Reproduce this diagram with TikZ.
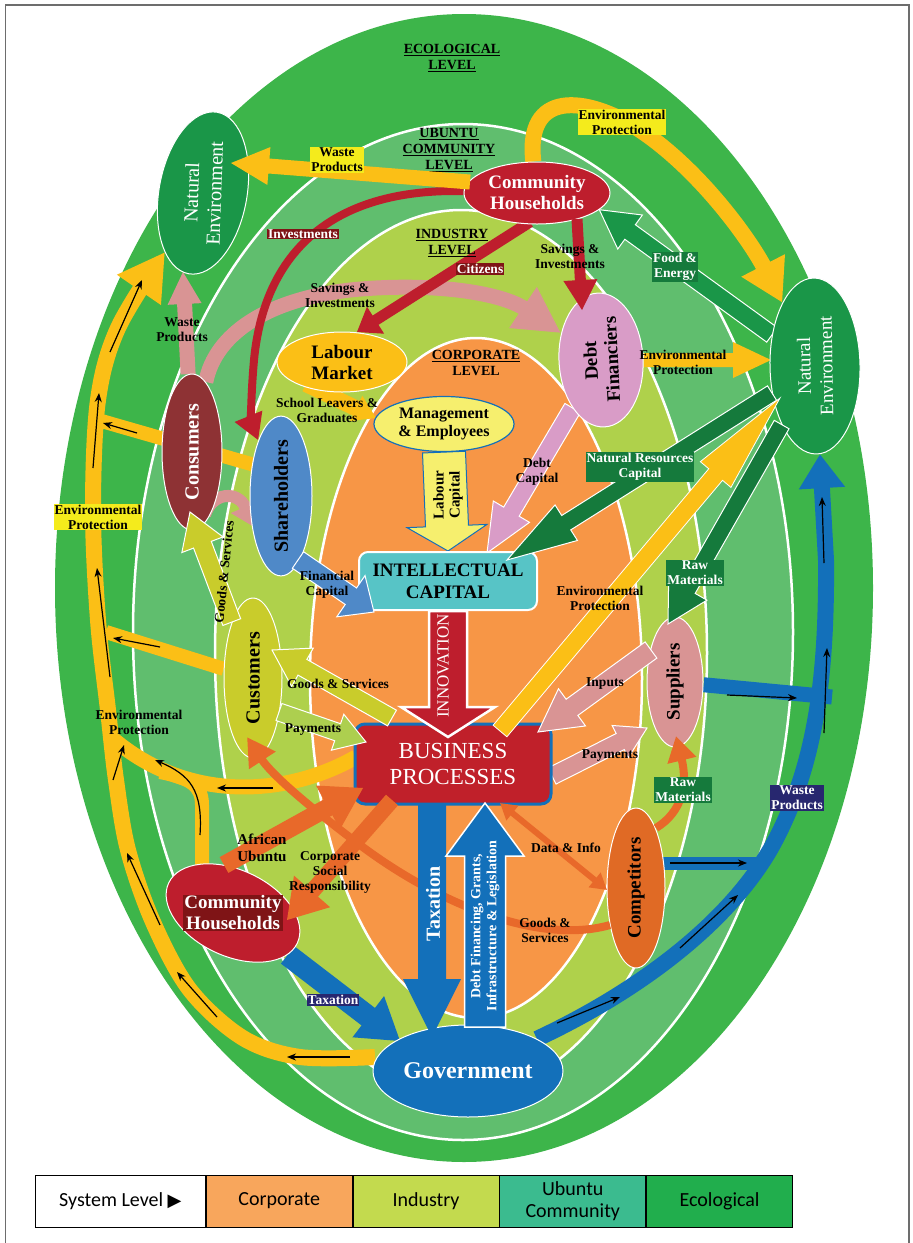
\documentclass[tikz,border=0pt]{standalone}
\usepackage{fontspec}
\setmainfont{Liberation Serif}
\newfontfamily\legendfont{Carlito}
\newfontfamily\trifont{DejaVu Sans}
\usetikzlibrary{shapes.geometric,arrows.meta,calc}

\definecolor{ecoGreen}{HTML}{3DB54A}
\definecolor{ubuGreen}{HTML}{60BE6E}
\definecolor{indGreen}{HTML}{AFD14B}
\definecolor{corpOrange}{HTML}{F79646}
\definecolor{natGreen}{HTML}{1A9648}
\definecolor{darkGreen}{HTML}{157A3C}
\definecolor{chRed}{HTML}{BE1E2D}
\definecolor{darkRed}{HTML}{7F1416}
\definecolor{yelArrow}{HTML}{FBBF16}
\definecolor{yelLabel}{HTML}{F4EB1C}
\definecolor{paleYel}{HTML}{F6EF6E}
\definecolor{pinkDebt}{HTML}{D99CC7}
\definecolor{pinkArr}{HTML}{D99494}
\definecolor{consRed}{HTML}{8E3234}
\definecolor{shareBlue}{HTML}{4F89C8}
\definecolor{custOlive}{HTML}{C9CC2B}
\definecolor{payGreen}{HTML}{ADCF4F}
\definecolor{compOrange}{HTML}{E06A25}
\definecolor{arrOrange}{HTML}{E8692A}
\definecolor{govBlue}{HTML}{1370BA}
\definecolor{navy}{HTML}{27276F}
\definecolor{icTeal}{HTML}{57C4C6}
\definecolor{bpRed}{HTML}{C0202A}
\definecolor{frameGrey}{HTML}{6D6D6D}
\definecolor{legCorp}{HTML}{F8A65C}
\definecolor{legInd}{HTML}{C3DA4E}
\definecolor{legUbu}{HTML}{3BBB8F}
\definecolor{legEco}{HTML}{21AE4D}

\newcommand{\fsz}[2]{\fontsize{#1}{#2}\selectfont}
% block arrow: [style]{from}{to}{half shaft}{half head}{head length}
\newcommand{\blockarr}[6][]{%
  \path (#2) -- (#3) coordinate[pos=0] (ba-s) coordinate[pos=1] (ba-t);
  \coordinate (ba-c) at ($(ba-t)!#6pt!(ba-s)$);
  \path[#1] ($(ba-s)!#4pt!90:(ba-t)$) -- ($(ba-c)!#4pt!90:(ba-t)$)
    -- ($(ba-c)!#5pt!90:(ba-t)$) -- (ba-t)
    -- ($(ba-c)!#5pt!-90:(ba-t)$) -- ($(ba-c)!#4pt!-90:(ba-t)$)
    -- ($(ba-s)!#4pt!-90:(ba-t)$) -- cycle;}

\pgfdeclarelayer{bg}
\pgfdeclarelayer{arr}
\pgfsetlayers{bg,arr,main}

\tikzset{
  ring/.style={draw=white, line width=2.5pt},
  ell/.style={ellipse, draw=white, line width=1pt, inner sep=0pt, align=center},
  lbl/.style={font=\bfseries\fsz{13.5}{15}, align=center, inner sep=1pt},
  lvl/.style={font=\bfseries\fsz{14}{16}, align=center},
  sarr/.style={black, line width=1.2pt, -{Stealth[length=9pt,width=7pt]}},
  legcell/.style={draw=black, line width=0.8pt, minimum width=146pt, minimum height=52pt,
    inner sep=0pt, align=center, anchor=west, font=\legendfont\fsz{20}{22}}
}

\begin{document}
\begin{tikzpicture}[x=1pt, y=-1pt]
\useasboundingbox (0,0) rectangle (913,1243);

\begin{pgfonlayer}{bg}
  \fill[ecoGreen] (464,588) ellipse [x radius=409, y radius=574];
  \draw[ring, fill=ubuGreen] (463,632) ellipse [x radius=330, y radius=508];
  \draw[ring, fill=indGreen] (461,653) ellipse [x radius=246, y radius=443];
  \draw[ring, fill=corpOrange] (476,678) ellipse [x radius=166, y radius=340];
\end{pgfonlayer}

% level titles
\node[lvl] (ecoLvl) at (452,58) {\underline{ECOLOGICAL}\\\underline{LEVEL}};
\node[lvl] (ubuLvl) at (449,150) {\underline{UBUNTU}\\\underline{COMMUNITY}\\\underline{LEVEL}};
\node[lvl] (indLvl) at (452,243) {\underline{INDUSTRY}\\\underline{LEVEL}};
\node[lvl] (corpLvl) at (476,363) {\underline{CORPORATE}\\LEVEL};

% stakeholders
\node[ell, fill=natGreen, minimum width=164pt, minimum height=88pt, rotate=80] (neL) at (203,193) {};
\node[rotate=88, text=white, align=center, font=\fsz{20}{23}] (neLtxt) at (neL) {Natural\\Environment};
\node[ell, fill=natGreen, minimum width=176pt, minimum height=90pt, rotate=91, text=white, font=\fsz{19}{22}] (neR) at (815,366) {Natural\\Environment};
\node[ell, fill=chRed, minimum width=146pt, minimum height=62pt, text=white, font=\bfseries\fsz{19}{21}] (chT) at (537,193) {Community\\Households};
\node[ell, fill=yelArrow, minimum width=130pt, minimum height=60pt, font=\bfseries\fsz{19}{21}] (lab) at (342,362) {Labour\\Market};
\node[ell, fill=paleYel, draw=govBlue, line width=1.2pt, minimum width=140pt, minimum height=55pt, font=\bfseries\fsz{16}{18}] (mgmt) at (444,424) {Management\\\& Employees};
\node[ell, fill=pinkDebt, minimum width=134pt, minimum height=84pt, rotate=93, font=\bfseries\fsz{19}{21}] (debt) at (601,360) {Debt\\Financiers};
\node[ell, fill=consRed, minimum width=156pt, minimum height=60pt, rotate=90, text=white, font=\bfseries\fsz{20}{21}] (cons) at (192,452) {Consumers};
\node[ell, fill=shareBlue, minimum width=154pt, minimum height=62pt, rotate=90, font=\bfseries\fsz{20}{21}] (share) at (281,496) {Shareholders};
\node[ell, fill=custOlive, minimum width=160pt, minimum height=58pt, rotate=90, font=\bfseries\fsz{20}{21}] (cust) at (253,678) {Customers};
\node[ell, fill=pinkArr, minimum width=130pt, minimum height=56pt, rotate=90, font=\bfseries\fsz{19}{21}] (supp) at (675,682) {Suppliers};
\node[ell, fill=compOrange, minimum width=160pt, minimum height=58pt, rotate=90, font=\bfseries\fsz{19}{21}] (comp) at (636,888) {Competitors};
\node[ell, fill=chRed, minimum width=142pt, minimum height=86pt, rotate=-25] (chB) at (233,913) {};
\node[ell, fill=govBlue, minimum width=190pt, minimum height=92pt, text=white, font=\bfseries\fsz{24}{26}] (gov) at (468,1071) {Government};
\node[rectangle, rounded corners=9pt, fill=icTeal, draw=white, line width=2pt, minimum width=178pt, minimum height=58pt, align=center, inner sep=0pt, font=\bfseries\fsz{19}{22}] (ic) at (448,581) {INTELLECTUAL\\CAPITAL};
\node[rectangle, rounded corners=10pt, fill=bpRed, draw=govBlue, line width=3pt, minimum width=196pt, minimum height=80pt, align=center, inner sep=0pt, text=white, font=\fsz{23}{26}] (bp) at (453,764) {BUSINESS\\PROCESSES};

% arrow ends
\coordinate (trkStart) at (375,1057);
\coordinate (trkTip) at (165,252);
\coordinate (bpBr) at (356,757);
\coordinate (bpBrEnd) at (112,738);
\coordinate (chBr) at (202,890);
\coordinate (chBrEnd) at (160,772);
\coordinate (cuBr) at (106,632);
\coordinate (shBr) at (258,466);
\coordinate (coBr) at (98,420);
\coordinate (wlTip) at (183,272);
\coordinate (pcsTail) at (205,515);
\coordinate (pcsTip) at (254,527);
\coordinate (citTail) at (530,222);
\coordinate (citTip) at (357,332);
\coordinate (envDtip) at (771,360);
\coordinate (dcTip) at (487,553);
\coordinate (slTail) at (306,384);
\coordinate (slTip) at (376,418);
\coordinate (psTail) at (552,776);
\coordinate (psTip) at (647,728);
\coordinate (tsTip) at (400,1041);
\coordinate (spBr) at (832,697);
\coordinate (cpBr0) at (640,863);
\coordinate (cpBr) at (764,863);
\coordinate (wasteTtail) at (470,182);
\coordinate (wasteTtip) at (231,163);
\coordinate (savRtail) at (577,219);
\coordinate (savRtip) at (582,310);
\coordinate (nrTip) at (507,560);
\coordinate (rtTip) at (668,624);
\coordinate (ebTail) at (500,731);
\coordinate (ebTip) at (780,398);
\coordinate (fcTail) at (298,560);
\coordinate (fcTip) at (374,612);
\coordinate (innTip) at (448,737);
\coordinate (gcTail) at (392,718);
\coordinate (gcTip) at (272,650);
\coordinate (pcTail) at (279,712);
\coordinate (pcTip) at (366,742);
\coordinate (gsTip) at (190,512);
\coordinate (inTail) at (651,650);
\coordinate (inTip) at (538,732);
\coordinate (gcpTail) at (610,925);
\coordinate (gcpTip) at (247,737);
\coordinate (auTail) at (224,865);
\coordinate (auTip) at (363,788);
\coordinate (csTail) at (392,800);
\coordinate (csTip) at (287,920);
\coordinate (diA) at (500,803);
\coordinate (diB) at (607,890);
\coordinate (rbTail) at (656,828);
\coordinate (rbTip) at (676,736);
\coordinate (tbTail) at (432,804);
\coordinate (tbTip) at (432,1037);
\coordinate (dfTail) at (485,1027);
\coordinate (dfTip) at (485,803);

\begin{pgfonlayer}{arr}
  % environmental protection flows on the left
  \draw[yelArrow, line width=16pt, -{Triangle[width=50pt,length=46pt]}] plot[smooth, tension=0.55] coordinates {(trkStart) (300,1057) (243,1038) (190,990) (153,922) (128,850) (116,780) (108,710) (98,620) (93,510) (98,400) (118,328) (trkTip)};
  \draw[yelArrow, line width=15pt] (bpBr) .. controls (290,795) and (190,805) .. (bpBrEnd);
  \draw[yelArrow, line width=14pt] (chBr) -- (202,805) .. controls (202,785) and (190,778) .. (chBrEnd);
  \draw[yelArrow, line width=14pt] (cust) -- (cuBr);
  \draw[yelArrow, line width=14pt] (shBr) -- (coBr);
  \draw[yelArrow, line width=16pt, -{Triangle[width=46pt,length=42pt]}] (chT) .. controls (525,90) and (585,95) .. (640,130) .. controls (700,170) and (750,240) .. (neR);
  \blockarr[fill=pinkArr]{cons}{wlTip}{7.5}{17}{32}
  \blockarr[fill=natGreen, draw=white, line width=1pt]{neR}{chT.-15}{9}{21}{38}
  \draw[pinkArr, line width=15pt, -{Triangle[width=46pt,length=46pt]}] (cons) .. controls (215,335) and (265,300) .. (350,290) .. controls (430,282) and (500,292) .. (debt);
  \draw[pinkArr, line width=12pt, -{Triangle[width=30pt,length=22pt]}] (pcsTail) .. controls (212,492) and (238,490) .. (pcsTip);
  \blockarr[fill=chRed]{citTail}{citTip}{5.5}{16}{22}
  \draw[chRed, line width=8pt, -{Triangle[width=28pt,length=26pt]}] (chT) .. controls (340,188) and (265,245) .. (254,360) .. controls (250,405) and (252,425) .. (share);
  \blockarr[fill=yelArrow]{debt}{envDtip}{7}{18}{38}
  \blockarr[fill=pinkDebt, draw=white, line width=1pt]{debt}{dcTip}{9}{21}{48}
  \blockarr[fill=paleYel, draw=govBlue, line width=1pt]{mgmt.south}{ic.north}{21.5}{40}{25}
  \blockarr[fill=yelArrow]{slTail}{slTip}{8}{14}{22}
  \blockarr[fill=pinkArr, draw=white, line width=1pt]{psTail}{psTip}{9}{18}{30}
  \blockarr[fill=govBlue]{chB}{tsTip}{11}{26}{40}
  % waste products to the right
  \draw[govBlue, line width=16pt, -{Triangle[width=44pt,length=34pt]}] (gov) .. controls (620,1000) and (720,935) .. (770,850) .. controls (815,770) and (827,680) .. (826,560) -- (neR);
  \draw[govBlue, line width=15pt] (supp) -- (spBr);
  \draw[govBlue, line width=13pt] (cpBr0) -- (cpBr);
\end{pgfonlayer}

\node[fill=darkRed, text=white, font=\bfseries\fsz{19}{21}, align=center, inner sep=1pt] (chBtxt) at (chB) {Community\\Households};

% arrows over the nodes
\blockarr[fill=yelArrow]{wasteTtail}{wasteTtip}{7.5}{19}{38}
\blockarr[fill=chRed]{savRtail}{savRtip}{5.5}{17}{30}
\blockarr[fill=darkGreen, draw=white, line width=1pt]{neR}{nrTip}{8.5}{21}{70}
\blockarr[fill=darkGreen, draw=white, line width=1pt]{neR}{rtTip}{8.5}{22}{40}
\blockarr[fill=yelArrow, draw=white, line width=0.8pt]{ebTail}{ebTip}{9}{20}{100}
\blockarr[fill=shareBlue, draw=white, line width=1pt]{fcTail}{fcTip}{10}{25}{28}
\blockarr[fill=chRed, draw=white, line width=2.5pt]{ic.south}{innTip}{19}{47}{30}
\blockarr[fill=custOlive, draw=white, line width=1pt]{gcTail}{gcTip}{9}{22}{35}
\blockarr[fill=payGreen, draw=white, line width=1pt]{pcTail}{pcTip}{9}{19}{30}
\blockarr[fill=custOlive, draw=white, line width=1pt]{cust}{gsTip}{9.5}{22}{35}
\blockarr[fill=pinkArr, draw=white, line width=1pt]{inTail}{inTip}{10}{23}{42}
\draw[arrOrange, line width=8pt, -{Triangle[width=30pt,length=28pt]}] (gcpTail) .. controls (540,945) and (440,905) .. (360,845) .. controls (300,800) and (270,772) .. (gcpTip);
\blockarr[fill=arrOrange]{auTail}{auTip}{9}{25}{40}
\blockarr[fill=arrOrange]{csTail}{csTip}{8}{24}{38}
\draw[arrOrange, line width=6pt, {Triangle[width=18pt,length=16pt]}-{Triangle[width=18pt,length=16pt]}] (diA) -- (diB);
\draw[arrOrange, line width=8pt, -{Triangle[width=28pt,length=25pt]}] (rbTail) .. controls (682,812) and (688,785) .. (rbTip);
\blockarr[fill=govBlue]{tbTail}{tbTip}{14}{29}{58}
\blockarr[fill=govBlue, draw=white, line width=1.5pt]{dfTail}{dfTip}{20.5}{39}{53}

% texts on the big arrows
\node[rotate=90, text=white, font=\fsz{17}{18}] (innTxt) at (443,666) {INNOVATION};
\node[rotate=90, align=center, font=\bfseries\fsz{15}{16}] (labTxt) at (448,495) {Labour\\Capital};
\node[rotate=90, text=white, font=\bfseries\fsz{20}{21}] (taxTxt) at (433,904) {Taxation};
\node[rotate=90, text=white, align=center, font=\bfseries\fsz{14}{16}] (dfTxt) at (485,926) {Debt Financing, Grants,\\Infrastructure \& Legislation};

% flow labels
\node[lbl, fill=yelLabel] (lWasteT) at (337,160) {Waste\\Products};
\node[lbl, fill=yelLabel] (lEnvT) at (622,122) {Environmental\\Protection};
\node[lbl, fill=darkGreen, text=white] (lFood) at (675,267) {Food \&\\Energy};
\node[lbl, fill=darkRed, text=white] (lInv) at (303,234) {Investments};
\node[lbl, fill=darkRed, text=white] (lCit) at (480,269) {Citizens};
\node[lbl] (lSavR) at (570,256) {Savings \&\\Investments};
\node[lbl] (lSavL) at (340,295) {Savings \&\\Investments};
\node[lbl] (lWasteL) at (182,330) {Waste\\Products};
\node[lbl] (lEnvD) at (683,362) {Environmental\\Protection};
\node[lbl, fill=darkGreen, text=white] (lNat) at (640,467) {Natural Resources\\Capital};
\node[lbl] (lDebtCap) at (537,472) {Debt\\Capital};
\node[lbl] (lEnvBig) at (600,598) {Environmental\\Protection};
\node[lbl, fill=darkGreen, text=white] (lRawT) at (695,573) {Raw\\Materials};
\node[lbl, fill=yelLabel] (lEnvL) at (98,517) {Environmental\\Protection};
\node[lbl] (lSchool) at (327,410) {School Leavers \&\\Graduates};
\node[lbl] (lFin) at (327,585) {Financial\\Capital};
\node[lbl, rotate=84] (lGsCons) at (224,572) {Goods \& Services};
\node[lbl] (lGsCust) at (338,684) {Goods \& Services};
\node[lbl] (lPayCust) at (313,730) {Payments};
\node[lbl] (lEnvLow) at (139,722) {Environmental\\Protection};
\node[lbl] (lInputs) at (605,684) {Inputs};
\node[lbl] (lPaySupp) at (610,756) {Payments};
\node[lbl, fill=darkGreen, text=white] (lRawB) at (683,790) {Raw\\Materials};
\node[lbl, fill=navy, text=white] (lWasteR) at (797,798) {Waste\\Products};
\node[lbl, font=\bfseries\fsz{15}{17}] (lAfr) at (262,848) {African\\Ubuntu};
\node[lbl] (lCsr) at (330,872) {Corporate\\Social\\Responsibility};
\node[lbl] (lData) at (566,848) {Data \& Info};
\node[lbl] (lGsComp) at (545,930) {Goods \&\\Services};
\node[lbl, fill=navy, text=white] (lTax) at (333,1000) {Taxation};

% small direction arrows
\draw[sarr] (110,352) -- (142,280);
\draw[sarr] (93,468) -- (99,393);
\draw[sarr] (110,677) -- (97,568);
\draw[sarr] (113,780) -- (124,745);
\draw[sarr] (160,925) -- (127,853);
\draw[sarr] (217,1017) -- (177,972);
\draw[sarr] (350,1057) -- (287,1057);
\draw[sarr] (137,433) -- (103,423);
\draw[sarr] (160,647) -- (113,638);
\draw[sarr] (273,788) -- (217,788);
\draw[sarr] (200,835) .. controls (203,790) and (190,775) .. (155,760);
\draw[sarr] (680,948) -- (738,895);
\draw[sarr] (557,1023) -- (620,997);
\draw[sarr] (824,733) -- (827,648);
\draw[sarr] (824,563) -- (822,497);
\draw[sarr] (727,695) -- (797,698);
\draw[sarr] (670,863) -- (747,863);

% legend
\node[legcell, minimum width=170pt] (legSys) at (35,1201) {System Level {\trifont\fsz{18}{18}▶}};
\node[legcell, fill=legCorp] (legCorp) at (legSys.east) {Corporate};
\node[legcell, fill=legInd] (legInd) at (legCorp.east) {Industry};
\node[legcell, fill=legUbu] (legUbu) at (legInd.east) {Ubuntu\\Community};
\node[legcell, fill=legEco] (legEco) at (legUbu.east) {Ecological};

\draw[frameGrey, line width=1.5pt] (5.5,1243) -- (5.5,5) -- (909,5) -- (909,1243);
\end{tikzpicture}
\end{document}
